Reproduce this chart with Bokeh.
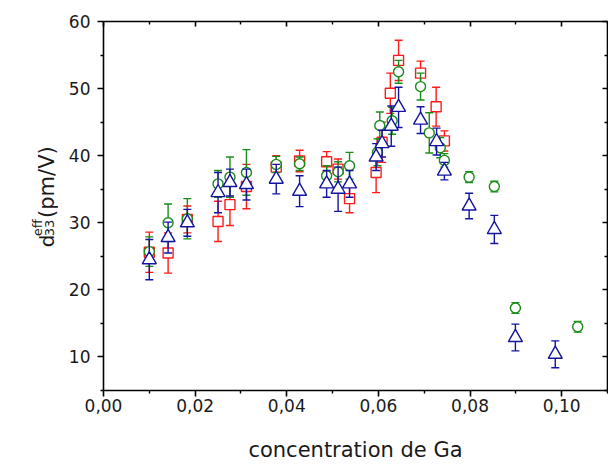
import numpy as np
from bokeh.plotting import figure
from bokeh.layouts import row
from bokeh.models import LinearAxis, FixedTicker, CustomJSTickFormatter, Range1d
from bokeh.core.properties import value
from bokeh.embed import file_html
from bokeh.resources import INLINE

# ---- data (concentration de Ga, d33 eff in pm/V, error) ----
red_x = [0.0100, 0.0141, 0.0183, 0.0250, 0.0276, 0.0312, 0.0377, 0.0428, 0.0487, 0.0512,
         0.0537, 0.0595, 0.0608, 0.0626, 0.0644, 0.0692, 0.0726, 0.0744]
red_y = [25.6, 25.5, 30.5, 30.2, 32.7, 35.4, 38.3, 39.2, 39.1, 38.0,
         33.6, 37.5, 42.0, 49.3, 54.2, 52.3, 47.3, 42.2]
red_e = [3.0, 3.0, 2.0, 3.0, 3.1, 3.3, 1.7, 1.6, 1.5, 1.5,
         2.1, 3.0, 3.0, 3.0, 3.0, 1.8, 2.9, 1.5]

green_x = [0.0100, 0.0141, 0.0183, 0.0250, 0.0276, 0.0312, 0.0377, 0.0428, 0.0487, 0.0512,
           0.0537, 0.0598, 0.0603, 0.0630, 0.0644, 0.0692, 0.0711, 0.0735, 0.0744, 0.0798,
           0.0853, 0.0899, 0.1035]
green_y = [25.7, 30.0, 30.6, 35.8, 36.8, 37.5, 38.7, 38.8, 37.0, 37.6,
           38.5, 40.5, 44.5, 45.2, 52.5, 50.3, 43.4, 41.2, 39.3, 36.8,
           35.4, 17.3, 14.5]
green_e = [2.2, 2.8, 3.0, 2.0, 3.0, 3.4, 1.2, 1.0, 1.5, 1.5,
           2.0, 2.0, 2.0, 2.0, 1.7, 2.0, 3.0, 1.5, 1.0, 0.8,
           0.8, 0.8, 0.8]

blue_x = [0.0100, 0.0141, 0.0183, 0.0250, 0.0276, 0.0312, 0.0377, 0.0428, 0.0487, 0.0512,
          0.0537, 0.0595, 0.0608, 0.0628, 0.0644, 0.0692, 0.0727, 0.0744, 0.0798, 0.0853,
          0.0899, 0.0986]
blue_y = [24.5, 27.8, 30.0, 34.5, 36.0, 35.7, 36.5, 34.7, 35.8, 35.0,
          35.8, 39.8, 41.8, 44.4, 47.2, 45.3, 42.1, 37.7, 32.5, 29.0,
          12.9, 10.4]
blue_e = [3.0, 2.3, 2.0, 3.0, 2.0, 2.3, 2.2, 2.3, 2.0, 3.3,
          2.0, 2.0, 2.0, 3.0, 3.0, 2.0, 2.0, 1.3, 1.9, 2.1,
          2.0, 2.0]

x_ticks = [0.0, 0.02, 0.04, 0.06, 0.08, 0.10]
x_minor = [0.01, 0.03, 0.05, 0.07, 0.09, 0.11]
y_ticks = [10, 20, 30, 40, 50, 60]
y_minor = [5, 15, 25, 35, 45, 55]

# y-axis title pieces: d, superscript "eff", subscript "33", unit
ylab_text = ["d", "eff", "33", "(pm/V)"]

RED = "#ff1a1a"
GREEN = "#1a8c1a"
BLUE = "#1414a0"
FONT = "DejaVu Sans"
H = 464
W_LAB = 58
TXT = "#1a1a1a"

# ---------------- main plot ----------------
p = figure(width=608 - W_LAB, height=H, output_backend="svg", toolbar_location=None,
           x_range=Range1d(0, 0.11), y_range=Range1d(5, 60),
           x_axis_location=None, y_axis_location=None,
           min_border_left=103 - W_LAB, min_border_right=1, min_border_top=21,
           min_border_bottom=71)
p.grid.visible = False
p.outline_line_color = None
p.background_fill_color = "white"
p.border_fill_color = "white"

def style_axis(ax, labels=True, inside=False):
    ax.axis_line_width = 1.6
    ax.axis_line_color = "black"
    ax.major_tick_line_width = 1.6
    ax.minor_tick_line_width = 1.4
    if inside:
        ax.major_tick_in, ax.major_tick_out = 5, 0
        ax.minor_tick_in, ax.minor_tick_out = 3, 0
    else:
        ax.major_tick_in, ax.major_tick_out = 0, 6
        ax.minor_tick_in, ax.minor_tick_out = 0, 3
    ax.major_label_text_font = FONT
    ax.major_label_text_font_size = "17px"
    ax.major_label_text_color = TXT
    if not labels:
        ax.formatter = CustomJSTickFormatter(code="return '';")
        ax.major_label_standoff = 0

xb = LinearAxis(ticker=FixedTicker(ticks=x_ticks, minor_ticks=x_minor),
                formatter=CustomJSTickFormatter(code="return tick.toFixed(2).replace('.', ',');"))
style_axis(xb)
xb.major_label_standoff = 2
xb.axis_label = "concentration de Ga"
xb.axis_label_text_font = FONT
xb.axis_label_text_font_size = "21px"
xb.axis_label_text_font_style = "normal"
xb.axis_label_text_color = TXT
xb.axis_label_standoff = 23
p.add_layout(xb, "below")

yl = LinearAxis(ticker=FixedTicker(ticks=y_ticks, minor_ticks=y_minor))
style_axis(yl)
yl.major_label_standoff = 7
p.add_layout(yl, "left")

xt = LinearAxis(ticker=FixedTicker(ticks=x_ticks, minor_ticks=x_minor))
style_axis(xt, labels=False, inside=True)
p.add_layout(xt, "above")

yr = LinearAxis(ticker=FixedTicker(ticks=y_ticks, minor_ticks=y_minor))
style_axis(yr, labels=False, inside=True)
p.add_layout(yr, "right")

def series(xs, ys, es, color, marker, size):
    xs = np.array(xs); ys = np.array(ys); es = np.array(es)
    hi = ys + es
    lo = ys - es
    p.segment(x0=xs, y0=lo, x1=xs, y1=hi, line_color=color, line_width=1.4)
    p.scatter(x=xs, y=hi, marker="dash", size=8, line_color=color, line_width=1.4)
    p.scatter(x=xs, y=lo, marker="dash", size=8, line_color=color, line_width=1.4)
    p.scatter(x=xs, y=ys, marker=marker, size=size, fill_color="white",
              line_color=color, line_width=1.4)

series(red_x, red_y, red_e, RED, "square", 10)
series(green_x, green_y, green_e, GREEN, "circle", 10)
series(blue_x, blue_y, blue_e, BLUE, "triangle", 14)

# ---------------- y-axis title strip (left) ----------------
q = figure(width=W_LAB, height=H, output_backend="svg", toolbar_location=None,
           x_range=Range1d(0, W_LAB), y_range=Range1d(0, H),
           x_axis_location=None, y_axis_location=None,
           min_border_left=0, min_border_right=0, min_border_top=0, min_border_bottom=0)
q.grid.visible = False
q.outline_line_color = None
q.border_fill_color = "white"

def ytitle(text, x, y_from_top, size):
    q.text(x=[x], y=[H - y_from_top], text=[text], angle=np.pi / 2,
           text_font=value(FONT), text_font_size=value(size), text_color=TXT,
           text_align="left", text_baseline="alphabetic")

ytitle(ylab_text[0], 46, 284, "20px")
ytitle(ylab_text[1], 37, 270, "13px")
ytitle(ylab_text[2], 49, 270, "13px")
ytitle(ylab_text[3], 46, 247, "21px")

layout = row(q, p, spacing=0)
open("out.html", "w").write(file_html(layout, INLINE))
